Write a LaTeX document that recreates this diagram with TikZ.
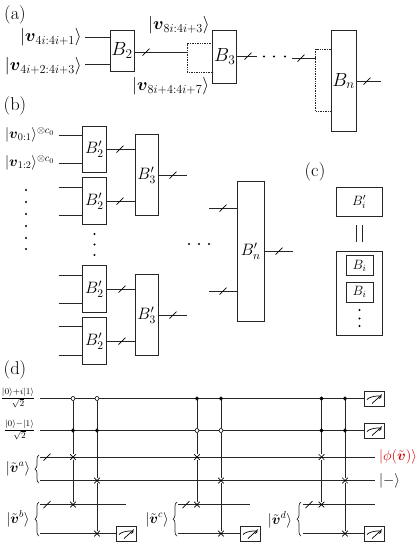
\documentclass[tikz,border=0pt]{standalone}
\usepackage{fix-cm}
\usepackage{amsmath,amssymb}
\usetikzlibrary{shapes.misc,decorations.pathreplacing,backgrounds}
\newcommand{\ket}[1]{\left|#1\right\rangle}
\newcommand{\kett}[1]{\lvert #1\rangle}
\newcommand{\bv}{\boldsymbol{v}}
\newcommand{\tv}{\tilde{\boldsymbol{v}}}
\newcommand{\fz}[1]{\fontsize{#1}{#1}\selectfont}
\tikzset{
  wire/.style={line width=0.7pt,black!85},
  qbox/.style={draw,line width=0.8pt,black!85,fill=white,inner sep=0pt,text=black,font=\fz{19}},
  pbox/.style={qbox,font=\fz{16.5}},
  sbox/.style={qbox,font=\fz{13.5}},
  lab/.style={inner sep=0pt,font=\fz{18.5}},
  ketlab/.style={inner sep=0pt,font=\fz{17.5}},
  ketmid/.style={inner sep=0pt,font=\fz{14.5}},
  slashmark/.style={line width=0.7pt,black},
  dotw/.style={wire,densely dotted},
  dd/.style={circle,fill=black,inner sep=0pt,minimum size=2.3pt},
  bk/.style={circle,draw=black,fill=black,line width=0.5pt,inner sep=0pt,minimum size=3.4pt},
  wh/.style={circle,draw=black,fill=white,line width=0.6pt,inner sep=0pt,minimum size=4pt},
  xg/.style={cross out,draw=black,line width=0.7pt,inner sep=0pt,minimum size=5pt},
  meter/.style={draw,line width=0.8pt,black!85,fill=white,inner sep=0pt,minimum width=20,minimum height=15,
    path picture={
      \draw[line width=0.7pt,black] ([shift={(-7,1)}]path picture bounding box.center) .. controls +(3,-4) and +(8,-4) .. +(12,-1);
      \draw[line width=0.7pt,black] ([shift={(-2,5)}]path picture bounding box.center) -- +(10,-9);
    }},
  bracey/.style={decorate,decoration={brace,amplitude=4pt},line width=0.7pt,black!85}
}
\newcommand{\wslash}[2]{\draw[slashmark] (#1-3.5,#2+3.5) -- (#1+3.5,#2-3.5);}
\begin{document}
\begin{tikzpicture}[x=1pt,y=-1pt]
\useasboundingbox (0,0) rectangle (416,547);
%% (a)
\node[lab] (la) at (15,15) {(a)};
\node[qbox,minimum width=24,minimum height=41] (B2) at (122,50.5) {$B_2$};
\node[qbox,minimum width=24,minimum height=53] (B3) at (224.7,56.5) {$B_3$};
\node[qbox,minimum width=25,minimum height=101] (Bn) at (343.5,81) {$B_n$};
\node[ketlab,anchor=east] (k1) at (82,37.5) {$\ket{\bv_{4i:4i+1}}$};
\node[ketlab,anchor=east] (k2) at (82,66) {$\ket{\bv_{4i+2:4i+3}}$};
\node[ketlab,anchor=west] (k3) at (148,25) {$\ket{\bv_{8i:4i+3}}$};
\node[ketlab,anchor=west] (k4) at (132,86.5) {$\ket{\bv_{8i+4:4i+7}}$};
\coordinate (a1) at (85,37.7);
\coordinate (a2) at (85,64.5);
\coordinate (a3) at (187,52);
\coordinate (a4) at (257,56);
\coordinate (a5) at (292,58);
\coordinate (a6) at (315.5,58);
\coordinate (a7) at (381,81);
\draw[wire] (a1) -- (a1 -| B2.west);
\draw[wire] (a2) -- (a2 -| B2.west);
\draw[wire] (a3 -| B2.east) -- (a3);
\draw[dotw] (212.7,43.5) -- (187,43.5) -- (187,72) -- (212.7,72);
\draw[wire] (a4 -| B3.east) -- (a4);
\draw[wire] (a5) -- (a6);
\draw[dotw] (331,49) -- (315.5,49) -- (315.5,111) -- (331,111);
\draw[wire] (a7 -| Bn.east) -- (a7);
\wslash{146}{52}\wslash{248}{56}\wslash{301}{58}\wslash{367}{81}
\node[dd] (ad1) at (264,56.5) {};
\node[dd] (ad2) at (274,56.5) {};
\node[dd] (ad3) at (285,56.5) {};
%% (b)
\node[lab] (lb) at (15,106) {(b)};
\foreach \n/\c in {1/149.3,2/201,3/289,4/341}{
  \node[pbox,minimum width=24,minimum height=46.5] (p\n) at (94.5,\c) {$B_2'$};
}
\node[pbox,minimum width=23.5,minimum height=81] (q1) at (146.7,175) {$B_3'$};
\node[pbox,minimum width=23.5,minimum height=81] (q2) at (146.7,315) {$B_3'$};
\node[pbox,minimum width=27.5,minimum height=140] (r) at (250.7,251) {$B_n'$};
\node[ketmid,anchor=west] (k5) at (5,135) {$\kett{\bv_{0:1}}^{\otimes c_0}$};
\node[ketmid,anchor=west] (k6) at (5,163) {$\kett{\bv_{1:2}}^{\otimes c_0}$};
\foreach \n/\y/\b in {1/135/1,2/163.5/1,3/187/2,4/215.5/2,5/275/3,6/303.5/3,7/326.5/4,8/355/4}{
  \coordinate (in\n) at (58.5,\y);
  \draw[wire] (in\n) -- (in\n -| p\b.west);
}
\foreach \n/\y/\b/\t/\s in {1/149/1/1/120,2/201/2/1/120,3/289/3/2/122,4/341/4/2/122}{
  \coordinate (mid\n) at (120,\y);
  \draw[wire] (mid\n -| p\b.east) -- (mid\n -| q\t.west);
  \wslash{\s}{\y}
}
\coordinate (o1) at (187,175);
\coordinate (o2) at (187,315);
\draw[wire] (o1 -| q1.east) -- (o1);
\draw[wire] (o2 -| q2.east) -- (o2);
\wslash{173}{175}\wslash{173}{315}
\coordinate (r1) at (209,208);
\coordinate (r2) at (209,291);
\coordinate (r3) at (293,251);
\draw[wire] (r1) -- (r1 -| r.west);
\draw[wire] (r2) -- (r2 -| r.west);
\draw[wire] (r3 -| r.east) -- (r3);
\wslash{223}{208}\wslash{223}{291}\wslash{279}{251}
\foreach \n/\y in {1/190,2/202,3/214,4/226,5/238,6/249}{ \node[dd] (ld\n) at (26,\y) {}; }
\foreach \n/\y in {1/234,2/244.5,3/255}{ \node[dd] (md\n) at (94.5,\y) {}; }
\foreach \n/\x in {1/189,2/199,3/209}{ \node[dd] (hd\n) at (\x,244) {}; }
%% (c)
\node[lab] (lc) at (315,172) {(c)};
\node[sbox,minimum width=46,minimum height=28.5] (ci) at (359,201.7) {$B_i'$};
\node[draw,line width=0.8pt,black!85,minimum width=46,minimum height=84,inner sep=0pt] (cc) at (359,293) {};
\node[sbox,minimum width=27,minimum height=20] (c1) at (359.5,265.5) {$B_i$};
\node[sbox,minimum width=27,minimum height=20] (c2) at (359.5,292) {$B_i$};
\coordinate (eqa) at (356,225); \coordinate (eqb) at (356,242);
\coordinate (eqc) at (362,225); \coordinate (eqd) at (362,242);
\draw[wire] (eqa) -- (eqb);
\draw[wire] (eqc) -- (eqd);
\foreach \n/\y in {1/310,2/318.5,3/326}{ \node[dd] (cd\n) at (359.5,\y) {}; }
%% (d)
\node[lab] (ld) at (15,370) {(d)};
\node[inner sep=0pt,font=\fz{12.5},anchor=center] (f1) at (18,398) {$\frac{\kett{0}+i\kett{1}}{\sqrt{2}}$};
\node[inner sep=0pt,font=\fz{12.5},anchor=center] (f2) at (19.5,430) {$\frac{\kett{0}-\kett{1}}{\sqrt{2}}$};
\node[meter] (m1) at (374,398.5) {};
\node[meter] (m2) at (374,430.5) {};
\node[meter] (m3) at (374,533.5) {};
\node[meter] (m4) at (126,533.5) {};
\node[meter] (m5) at (250,533.5) {};
\node[ketmid,anchor=west,text=red!85!black] (phi) at (379,457) {$\kett{\phi(\tv)}$};
\node[ketmid,anchor=west] (minus) at (379,481) {$\kett{-}$};
\coordinate (w1) at (40,398.5);
\coordinate (w2) at (40,430.5);
\coordinate (w3) at (40,457);
\coordinate (w4) at (40,480.5);
\coordinate (w5) at (40,504.5);
\coordinate (w6) at (40,533.5);
\coordinate (e3) at (374.5,457);
\coordinate (e4) at (374.5,480.5);
\coordinate (e5a) at (126,504.5);
\coordinate (s5b) at (178,504.5);
\coordinate (e5b) at (250,504.5);
\coordinate (s6b) at (178,533.5);
\coordinate (s5c) at (303,504.5);
\coordinate (e5c) at (374.5,504.5);
\coordinate (s6c) at (303,533.5);
\foreach \n/\x/\t/\s/\u/\v in {A/73/wh/bk/3/5,B/97/wh/bk/4/6,C/197/bk/wh/3/5,D/221/bk/wh/4/6,E/321.5/bk/bk/3/5,F/345/bk/bk/4/6}{
  \node[\t] (\n t) at (\x,398.5) {};
  \node[\s] (\n s) at (\x,430.5) {};
  \coordinate (\n u) at (\x,0);
  \node[xg] (\n x) at (\n u |- w\u) {};
  \node[xg] (\n y) at (\n u |- w\v) {};
  \begin{pgfonlayer}{background}
    \draw[wire] (\n t) -- (\n s) -- (\n x) -- (\n y);
  \end{pgfonlayer}
}
\begin{pgfonlayer}{background}
  \draw[wire] (w1) -- (m1);
  \draw[wire] (w2) -- (m2);
  \draw[wire] (w3) -- (e3);
  \draw[wire] (w4) -- (e4);
  \draw[wire] (w5) -- (e5a);
  \draw[wire] (w6) -- (m4);
  \draw[wire] (s5b) -- (e5b);
  \draw[wire] (s6b) -- (m5);
  \draw[wire] (s5c) -- (e5c);
  \draw[wire] (s6c) -- (m3);
\end{pgfonlayer}
\wslash{47}{457}\wslash{47}{504.5}\wslash{186}{504.5}\wslash{309}{504.5}
\coordinate (ba1) at (39,483); \coordinate (ba2) at (39,455);
\coordinate (bb1) at (39,536); \coordinate (bb2) at (39,502);
\coordinate (bc1) at (177,536); \coordinate (bc2) at (177,502);
\coordinate (bd1) at (301,536); \coordinate (bd2) at (301,502);
\draw[bracey] (ba1) -- (ba2);
\draw[bracey] (bb1) -- (bb2);
\draw[bracey] (bc1) -- (bc2);
\draw[bracey] (bd1) -- (bd2);
\node[ketmid] (va) at (18,469) {$\kett{\tv^a}$};
\node[ketmid] (vb) at (18,519) {$\kett{\tv^b}$};
\node[ketmid] (vc) at (157,520) {$\kett{\tv^c}$};
\node[ketmid] (vd) at (280,520) {$\kett{\tv^d}$};
\end{tikzpicture}
\end{document}
